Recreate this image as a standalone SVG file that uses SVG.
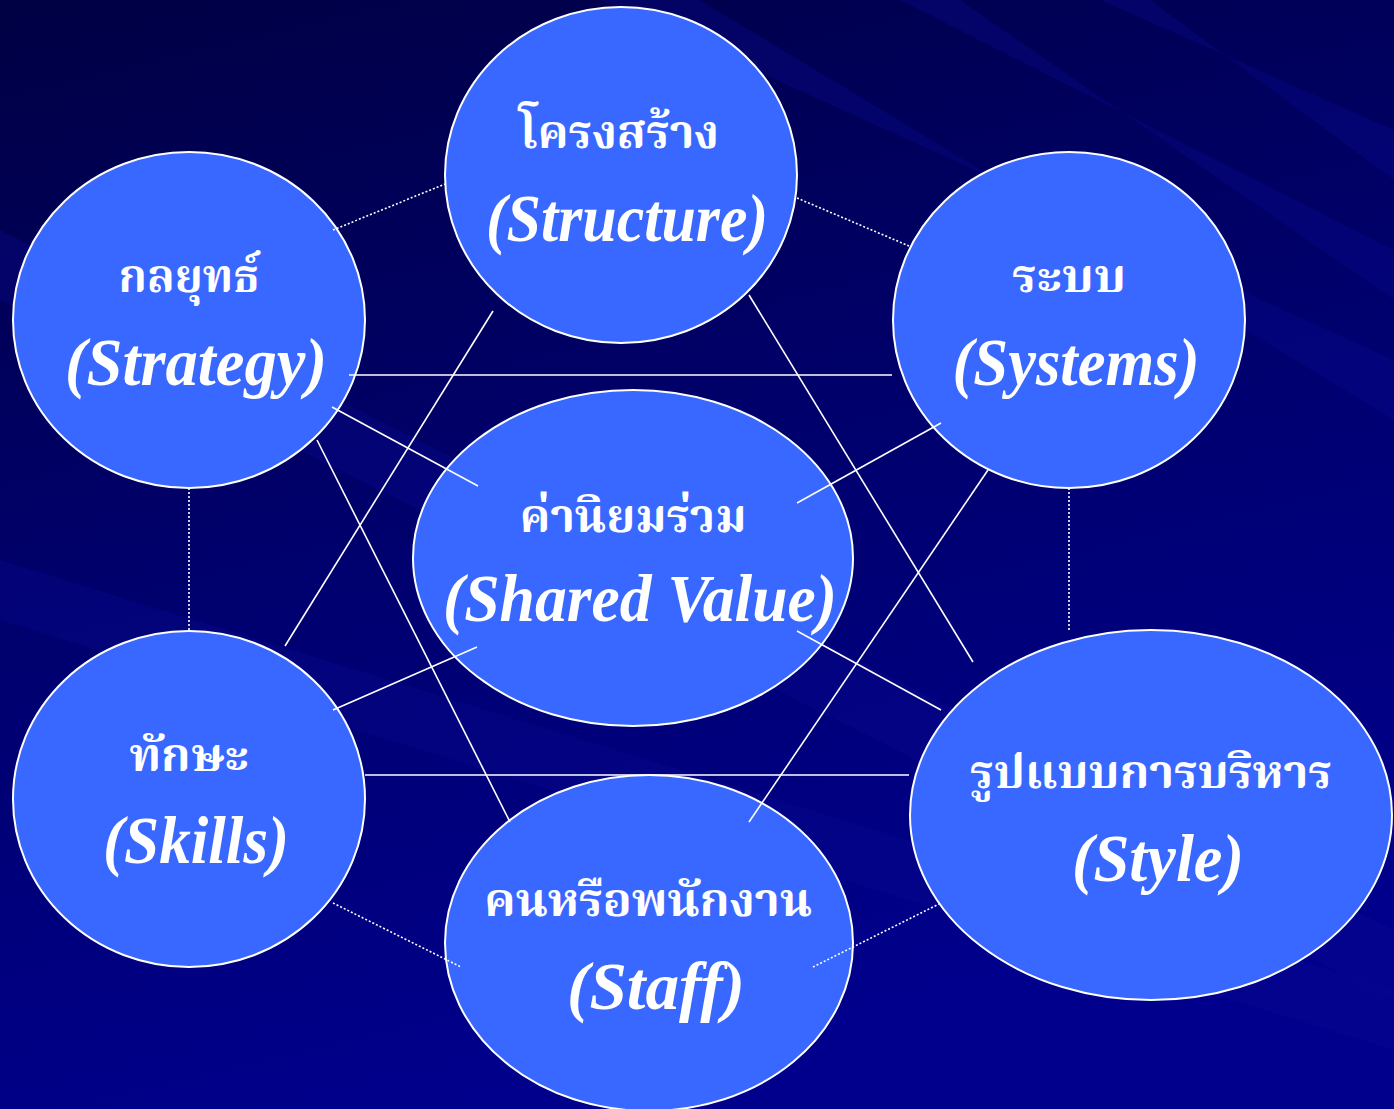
<svg xmlns="http://www.w3.org/2000/svg" width="1394" height="1109" viewBox="0 0 1394 1109">
<defs>
<linearGradient id="bg" x1="0" y1="0" x2="0.3" y2="1">
<stop offset="0" stop-color="#000044"/>
<stop offset="0.5" stop-color="#00006c"/>
<stop offset="1" stop-color="#00008c"/>
</linearGradient>
<style>
.node{fill:#3868FF;stroke:#FFFFFF;stroke-width:2}
.th{font-family:"Noto Serif Thai","Noto Sans Thai","Noto Sans","DejaVu Sans",sans-serif;font-size:46px;font-weight:bold;fill:#FFFFFF;text-anchor:middle}
.en{font-family:"Liberation Serif",serif;font-style:italic;font-weight:bold;font-size:68px;fill:#FFFFFF;text-anchor:middle}
.solid{stroke:#FFFFFF;stroke-width:1.6;fill:none}
.dot{stroke:#FFFFFF;stroke-width:1.6;stroke-dasharray:2 2;fill:none}
.streak{fill:#0a0a90;opacity:0.35}
</style>
</defs>
<rect width="1394" height="1109" fill="url(#bg)"/>
<g id="background-streaks">
<polygon class="streak" points="0,230 0,300 1394,1000 1394,930"/>
<polygon class="streak" points="0,560 0,620 1394,1050 1394,990"/>
<polygon class="streak" points="600,0 700,0 1394,420 1394,360"/>
<polygon class="streak" points="900,0 960,0 1394,300 1394,250"/>
<polygon class="streak" points="1100,0 1150,0 1394,180 1394,130"/>
</g>
<g id="n-structure"><ellipse class="node" cx="621" cy="175" rx="176" ry="168"/>
<text class="th" x="619" y="148" textLength="200" lengthAdjust="spacingAndGlyphs">โครงสร้าง</text><text class="en" x="627" y="241" textLength="282" lengthAdjust="spacingAndGlyphs">(Structure)</text></g>
<g id="n-strategy"><ellipse class="node" cx="189" cy="320" rx="176" ry="168"/>
<text class="th" x="189" y="292" textLength="141" lengthAdjust="spacingAndGlyphs">กลยุทธ์</text><text class="en" x="196" y="385" textLength="262" lengthAdjust="spacingAndGlyphs">(Strategy)</text></g>
<g id="n-systems"><ellipse class="node" cx="1069" cy="320" rx="176" ry="168"/>
<text class="th" x="1069" y="292" textLength="114" lengthAdjust="spacingAndGlyphs">ระบบ</text><text class="en" x="1076" y="385" textLength="247" lengthAdjust="spacingAndGlyphs">(Systems)</text></g>
<g id="n-shared"><ellipse class="node" cx="633" cy="558" rx="220" ry="168"/>
<text class="th" x="633" y="532" textLength="227" lengthAdjust="spacingAndGlyphs">ค่านิยมร่วม</text><text class="en" x="640" y="621" textLength="394" lengthAdjust="spacingAndGlyphs">(Shared Value)</text></g>
<g id="n-skills"><ellipse class="node" cx="189" cy="799" rx="176" ry="168"/>
<text class="th" x="189" y="771" textLength="119" lengthAdjust="spacingAndGlyphs">ทักษะ</text><text class="en" x="196" y="863" textLength="186" lengthAdjust="spacingAndGlyphs">(Skills)</text></g>
<g id="n-staff"><ellipse class="node" cx="649" cy="943" rx="204" ry="168"/>
<text class="th" x="648" y="916" textLength="328" lengthAdjust="spacingAndGlyphs">คนหรือพนักงาน</text><text class="en" x="656" y="1009" textLength="178" lengthAdjust="spacingAndGlyphs">(Staff)</text></g>
<g id="n-style"><ellipse class="node" cx="1151" cy="815" rx="241" ry="185"/>
<text class="th" x="1151" y="788" textLength="362" lengthAdjust="spacingAndGlyphs">รูปแบบการบริหาร</text><text class="en" x="1158" y="881" textLength="172" lengthAdjust="spacingAndGlyphs">(Style)</text></g>
<g id="connectors">
<line class="solid" x1="349" y1="375" x2="892" y2="375"/>
<line class="solid" x1="332" y1="407" x2="478" y2="486"/>
<line class="solid" x1="317" y1="440" x2="510" y2="822"/>
<line class="solid" x1="493" y1="311" x2="285" y2="646"/>
<line class="solid" x1="749" y1="295" x2="973" y2="662"/>
<line class="solid" x1="941" y1="423" x2="797" y2="503"/>
<line class="solid" x1="988" y1="470" x2="749" y2="822"/>
<line class="solid" x1="477" y1="647" x2="333" y2="710"/>
<line class="solid" x1="797" y1="631" x2="941" y2="710"/>
<line class="solid" x1="365" y1="775" x2="909" y2="775"/>
<line class="dot" x1="333" y1="230" x2="445" y2="184"/>
<line class="dot" x1="797" y1="198" x2="909" y2="246"/>
<line class="dot" x1="189" y1="488" x2="189" y2="630"/>
<line class="dot" x1="1069" y1="488" x2="1069" y2="630"/>
<line class="dot" x1="333" y1="903" x2="461" y2="967"/>
<line class="dot" x1="813" y1="967" x2="941" y2="903"/>
</g>
</svg>
